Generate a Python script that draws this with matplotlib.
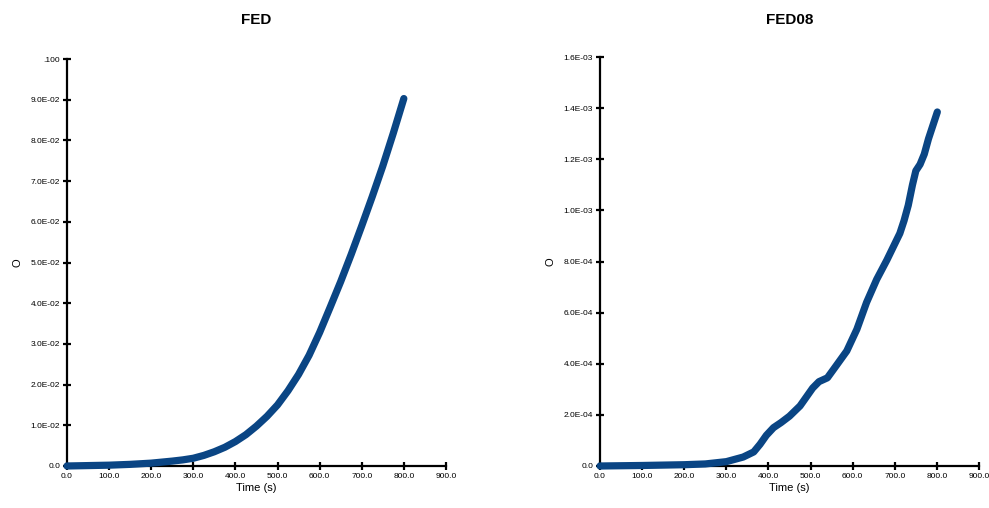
import numpy as np
import matplotlib.pyplot as plt

# FED curve (left panel)
fed_time = [0, 50, 100, 150, 200, 250, 275, 300, 325, 350, 375, 400, 425, 450, 475, 500,
            525, 550, 575, 600, 625, 650, 675, 700, 725, 750, 775, 800]
fed_value = [0.0, 0.0001, 0.0002, 0.0004, 0.0007, 0.0012, 0.0015, 0.0019, 0.0026, 0.0035,
             0.0046, 0.0060, 0.0077, 0.0098, 0.0122, 0.0150, 0.0185, 0.0225, 0.0272, 0.0328,
             0.0390, 0.0453, 0.0520, 0.0590, 0.0662, 0.0737, 0.0818, 0.0903]

# FED08 curve (right panel)
fed08_time = [0, 100, 200, 250, 300, 340, 365, 380, 395, 412, 430, 450, 475, 490, 505, 520,
              540, 562, 586, 610, 633, 657, 681, 712, 722, 732, 742, 750, 760, 770, 780, 790, 801]
fed08_value = [0.0, 0.02e-4, 0.05e-4, 0.08e-4, 0.17e-4, 0.35e-4, 0.55e-4, 0.85e-4, 1.2e-4,
               1.5e-4, 1.7e-4, 1.95e-4, 2.35e-4, 2.7e-4, 3.05e-4, 3.3e-4, 3.45e-4, 3.95e-4,
               4.5e-4, 5.35e-4, 6.4e-4, 7.3e-4, 8.05e-4, 9.1e-4, 9.6e-4, 10.2e-4, 11.0e-4,
               11.55e-4, 11.8e-4, 12.2e-4, 12.8e-4, 13.3e-4, 13.85e-4]

x_ticks = np.arange(0, 901, 100)
x_labels = ['%.1f' % v for v in x_ticks]
fed_yticks = np.arange(0, 0.1001, 0.01)
fed_ylabels = ['0.0'] + ['%.1fE-02' % (i) for i in range(1, 10)] + ['.100']
fed08_yticks = np.arange(0, 1.6001e-3, 2e-4)
fed08_ylabels = ['0.0', '2.0E-04', '4.0E-04', '6.0E-04', '8.0E-04',
                 '1.0E-03', '1.2E-03', '1.4E-03', '1.6E-03']

line_color = '#0a4584'
plt.rcParams['font.family'] = ['Liberation Sans', 'DejaVu Sans']

fig = plt.figure(figsize=(9.89, 5.08), dpi=100)
ax1 = fig.add_axes([0.0677, 0.0827, 0.3832, 0.801])
ax2 = fig.add_axes([0.6067, 0.0827, 0.3832, 0.805])

panels = [
    (ax1, fed_time, fed_value, 'FED', fed_yticks, fed_ylabels, 0.1),
    (ax2, fed08_time, fed08_value, 'FED08', fed08_yticks, fed08_ylabels, 1.6e-3),
]

for ax, t, v, title, yt, yl, ymax in panels:
    ax.plot(t, v, color=line_color, linewidth=5.2, solid_capstyle='round',
            solid_joinstyle='round', clip_on=False, zorder=3)
    ax.set_xlim(0, 900)
    ax.set_ylim(0, ymax)
    ax.set_xticks(x_ticks)
    ax.set_xticklabels(x_labels, fontsize=6)
    ax.set_yticks(yt)
    ax.set_yticklabels(yl, fontsize=6)
    for s in ['top', 'right']:
        ax.spines[s].set_visible(False)
    for s in ['left', 'bottom']:
        ax.spines[s].set_linewidth(1.6)
        ax.spines[s].set_color('black')
    ax.tick_params(direction='inout', length=6, width=1.6, pad=2)
    ax.set_xlabel('Time (s)', fontsize=8, labelpad=2)
    ax.set_ylabel('O', fontsize=8, labelpad=6)
    pos = ax.get_position()
    fig.text(pos.x0 + pos.width / 2, 1 - 19.5 / 508, title, fontsize=11,
             fontweight='bold', ha='center', va='center')

fig.savefig('out.png', dpi=100)
